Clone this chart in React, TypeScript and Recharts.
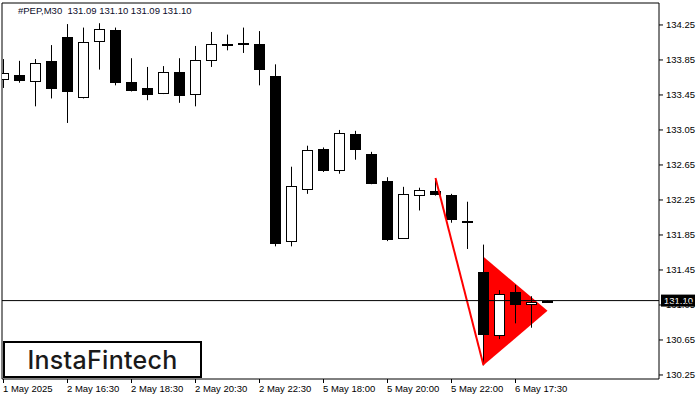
import React from 'react';
import {
  ComposedChart,
  Bar,
  Line,
  Area,
  XAxis,
  YAxis,
  ReferenceLine,
  ReferenceArea,
} from 'recharts';

// PEP M30 candles
const opens = [
  133.63, 133.68, 133.61, 133.84, 134.11, 133.42, 134.06, 134.19, 133.6, 133.53,
  133.47, 133.71, 133.46, 133.85, 134.03, 134.04, 134.03, 133.67, 131.78, 132.37,
  132.83, 132.6, 133.0, 132.78, 132.47, 131.82, 132.3, 132.35, 132.31, 132.01,
  131.43, 130.7, 131.2, 131.06, 131.09,
];
const highs = [
  133.86, 133.84, 133.86, 134.02, 134.26, 134.22, 134.27, 134.22, 133.87, 133.77,
  133.78, 133.87, 134.01, 134.17, 134.14, 134.22, 134.18, 133.8, 132.63, 132.87,
  132.85, 133.05, 133.04, 132.8, 132.51, 132.4, 132.39, 132.5, 132.32, 132.23,
  131.74, 131.22, 131.28, 131.15, 131.1,
];
const lows = [
  133.53, 133.59, 133.32, 133.41, 133.13, 133.41, 133.74, 133.56, 133.49, 133.39,
  133.46, 133.36, 133.32, 133.77, 133.96, 133.93, 133.56, 131.72, 131.72, 132.32,
  132.57, 132.55, 132.71, 132.43, 131.78, 131.81, 132.13, 132.3, 131.99, 131.69,
  130.36, 130.66, 130.84, 130.79, 131.09,
];
const closes = [
  133.7, 133.61, 133.82, 133.52, 133.48, 134.05, 134.2, 133.58, 133.5, 133.45,
  133.71, 133.44, 133.85, 134.03, 134.02, 134.03, 133.73, 131.75, 132.41, 132.82,
  132.58, 133.02, 132.82, 132.44, 131.8, 132.32, 132.36, 132.31, 132.02, 132.0,
  130.71, 131.17, 131.05, 131.08, 131.1,
];

const xTicks = [0, 4, 8, 12, 16, 20, 24, 28, 32];
const xTickLabels = [
  '1 May 2025', '2 May 16:30', '2 May 18:30', '2 May 20:30', '2 May 22:30',
  '5 May 18:00', '5 May 20:00', '5 May 22:00', '6 May 17:30',
];
const yTicks = [130.25, 130.65, 131.05, 131.45, 131.85, 132.25, 132.65, 133.05, 133.45, 133.85, 134.25];

// bearish pennant: pole from bar 27 high to bar 30 low, flag bar 30 -> 34
const poleIdx = [27, 30];
const poleVals = [132.5, 130.36];
const flagIdx = [30, 34];
const flagLow = [130.36, 130.985];
const flagHigh = [131.6, 130.985];

const lastPrice = 131.1;

const data = opens.map((o, i) => {
  const pi = poleIdx.indexOf(i);
  const fi = flagIdx.indexOf(i);
  return {
    idx: i,
    open: o,
    high: highs[i],
    low: lows[i],
    close: closes[i],
    range: [lows[i], highs[i]],
    pole: pi >= 0 ? poleVals[pi] : null,
    flag: fi >= 0 ? [flagLow[fi], flagHigh[fi]] : null,
  };
});

const Candle = (props: any) => {
  const { x, y, width, height, payload } = props;
  const { open, close, high, low } = payload;
  const cx = Math.round(x + width / 2) + 0.5;
  const k = height / (high - low);
  const top = y + (high - Math.max(open, close)) * k;
  const bot = y + (high - Math.min(open, close)) * k;
  const bull = close > open;
  const left = cx - 5.5;
  if (bull) {
    return (
      <g>
        <line x1={cx} x2={cx} y1={y} y2={y + height} stroke="#000" strokeWidth={1} />
        <rect x={left + 0.5} y={Math.round(top) + 0.5} width={10} height={Math.max(1, Math.round(bot - top))} fill="#fff" stroke="#000" strokeWidth={1} />
      </g>
    );
  }
  return (
    <g>
      <line x1={cx} x2={cx} y1={y} y2={y + height} stroke="#000" strokeWidth={1} />
      <rect x={left} y={Math.round(top)} width={11} height={Math.max(2, Math.round(bot - top))} fill="#000" />
    </g>
  );
};

const XTick = (props: any) => {
  const { x, y, payload } = props;
  const i = xTicks.indexOf(payload.value);
  return (
    <text x={x - 0.5} y={y + 9} textAnchor="start" fontSize={9.5} fill="#000">
      {xTickLabels[i]}
    </text>
  );
};

const PriceLabel = (props: any) => {
  const { viewBox } = props;
  const rx = viewBox.x + viewBox.width + 2;
  return (
    <g>
      <rect x={rx} y={viewBox.y - 6} width={34} height={12} fill="#000" />
      <text x={rx + 3} y={viewBox.y + 3.5} fontSize={9.5} fill="#fff">
        {lastPrice.toFixed(2)}
      </text>
    </g>
  );
};

export default function App() {
  return (
    <div style={{ position: 'absolute', left: 0, top: 0, width: 700, height: 400, background: '#fff', fontFamily: '"Liberation Sans", Arial, sans-serif' }}>
      <ComposedChart width={700} height={400} data={data} margin={{ top: 3, right: 0, left: 2, bottom: 0 }}>
        <XAxis
          dataKey="idx"
          type="number"
          domain={[-0.09375, 40.96875]}
          allowDataOverflow
          ticks={xTicks}
          interval={0}
          height={21}
          tickSize={4}
          tickMargin={0}
          axisLine={false}
          tickLine={{ stroke: '#000' }}
          tick={<XTick />}
        />
        <YAxis
          orientation="right"
          domain={[130.204, 134.501]}
          allowDataOverflow
          ticks={yTicks}
          interval={0}
          width={41}
          tickSize={4}
          tickMargin={3}
          axisLine={false}
          tickLine={{ stroke: '#000' }}
          tick={{ fontSize: 9.5, fill: '#000' }}
          tickFormatter={(v: number) => v.toFixed(2)}
        />
        <Area
          dataKey="flag"
          type="linear"
          connectNulls
          fill="#ff0000"
          fillOpacity={1}
          stroke="none"
          isAnimationActive={false}
        />
        <Line
          dataKey="pole"
          type="linear"
          connectNulls
          stroke="#ff0000"
          strokeWidth={2}
          dot={false}
          isAnimationActive={false}
        />
        <ReferenceLine y={lastPrice} stroke="#000" strokeWidth={1} label={<PriceLabel />} />
        <Bar dataKey="range" barSize={11} shape={<Candle />} isAnimationActive={false} />
        <ReferenceArea x1={-0.09375} x2={40.96875} y1={130.204} y2={134.501} fill="none" stroke="#000" strokeWidth={1} ifOverflow="visible" />
      </ComposedChart>
      <div style={{ position: 'absolute', left: 18, top: 5, fontSize: 9.5, lineHeight: '12px', color: '#0b0b2a', whiteSpace: 'pre' }}>
        {'#PEP,M30  131.09 131.10 131.09 131.10'}
      </div>
      <div style={{ position: 'absolute', left: 3, top: 341, width: 199, height: 37, boxSizing: 'border-box', border: '2px solid #000', background: '#fff', display: 'flex', alignItems: 'center', justifyContent: 'center', fontFamily: 'Inter, "Open Sans", sans-serif', fontSize: 25, fontWeight: 500, color: '#1a1a1a', letterSpacing: 0.3 }}>
        InstaFintech
      </div>
    </div>
  );
}
